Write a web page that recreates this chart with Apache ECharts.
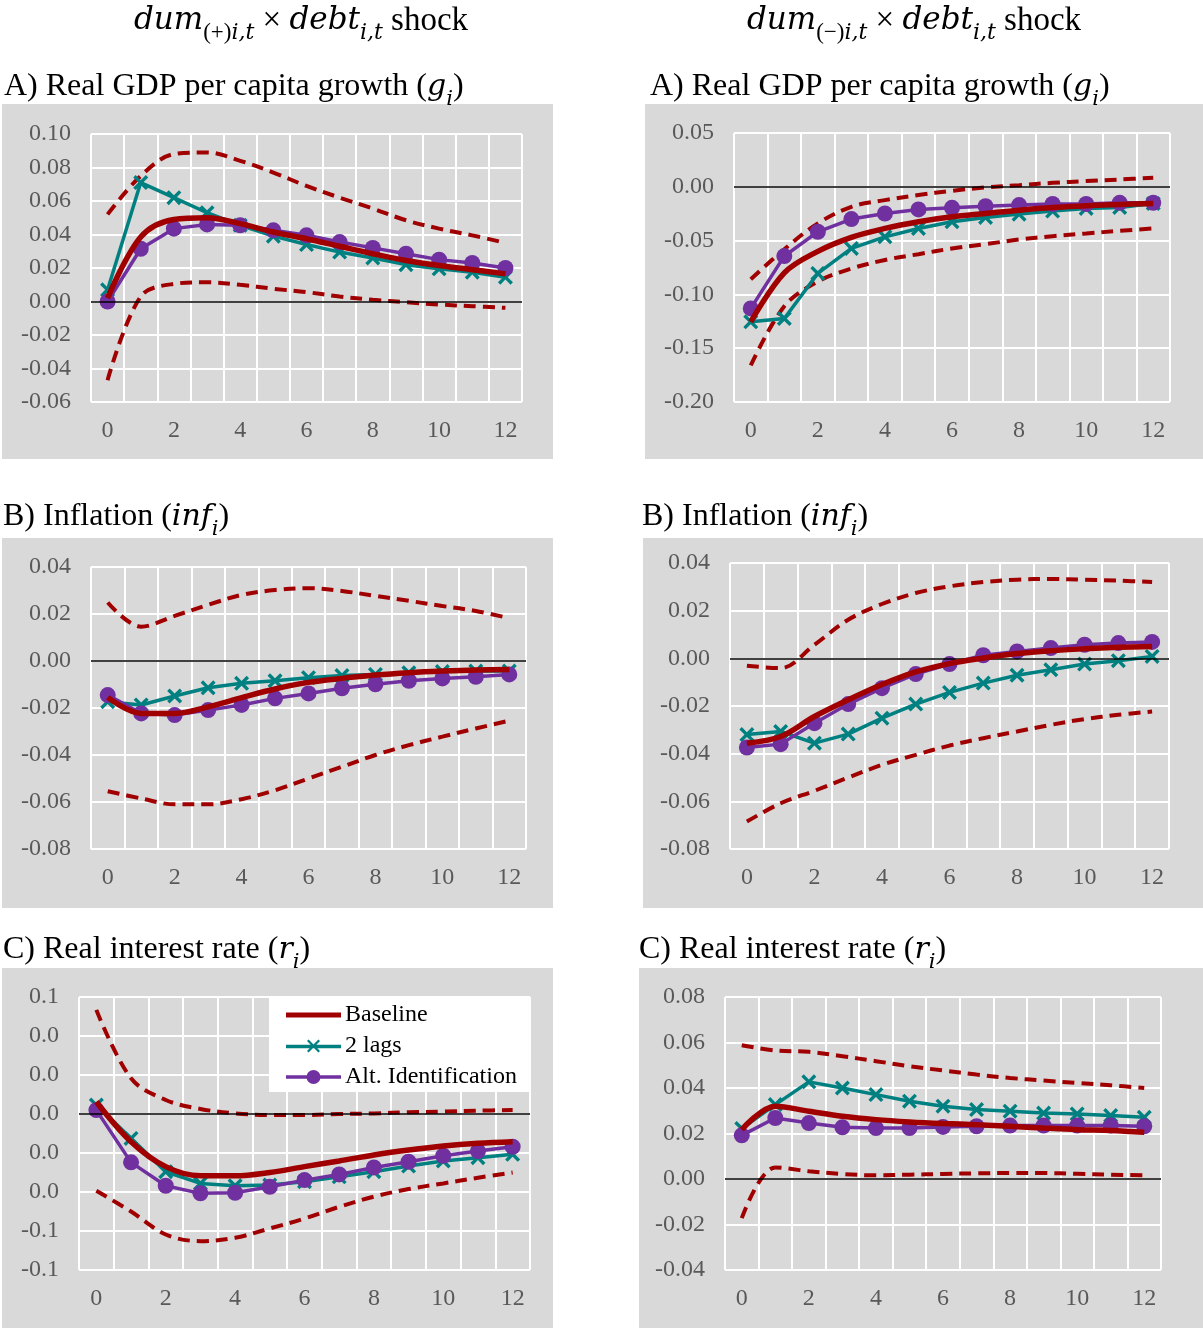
<!DOCTYPE html>
<html><head><meta charset="utf-8">
<script src="https://cdn.jsdelivr.net/npm/echarts@6/dist/echarts.min.js"></script>
<style>html,body{margin:0;padding:0;background:#fff}#c{width:1203px;height:1334px}</style>
</head><body><div id="c"></div>
<script>
// ---------- DATA ----------
const horizons = ['0','1','2','3','4','5','6','7','8','9','10','11','12'];
const legendNames = ['Baseline', '2 lags', 'Alt. Identification'];

// A) Real GDP per capita growth, dum(+) shock
const gPosBaseline = [0.002, 0.0385, 0.049, 0.050, 0.0465, 0.0415, 0.0375, 0.033, 0.0285, 0.0245, 0.0215, 0.019, 0.0165];
const gPosLags     = [0.007, 0.071, 0.062, 0.053, 0.0455, 0.039, 0.034, 0.0295, 0.026, 0.022, 0.0195, 0.0175, 0.0145];
const gPosAlt      = [0.000, 0.0315, 0.0435, 0.046, 0.0455, 0.0425, 0.0395, 0.0355, 0.032, 0.0285, 0.025, 0.023, 0.020];
const gPosUpper    = [0.052, 0.075, 0.088, 0.089, 0.084, 0.077, 0.069, 0.062, 0.0555, 0.0485, 0.0435, 0.0395, 0.035];
const gPosLower    = [-0.047, 0.003, 0.0105, 0.0115, 0.010, 0.0076, 0.0056, 0.003, 0.001, -0.0004, -0.0018, -0.0028, -0.0038];

// A) Real GDP per capita growth, dum(-) shock
const gNegBaseline = [-0.1255, -0.080, -0.060, -0.047, -0.0387, -0.0325, -0.0279, -0.0248, -0.0217, -0.0192, -0.0177, -0.0164, -0.0155];
const gNegLags     = [-0.1255, -0.1224, -0.0805, -0.0573, -0.0465, -0.0387, -0.0325, -0.0285, -0.0254, -0.0226, -0.0201, -0.0192, -0.0155];
const gNegAlt      = [-0.113, -0.0644, -0.0418, -0.030, -0.0248, -0.021, -0.0195, -0.018, -0.017, -0.016, -0.016, -0.0149, -0.0149];
const gNegUpper    = [-0.086, -0.058, -0.034, -0.0186, -0.0124, -0.0077, -0.0037, -0.0006, 0.0015, 0.0037, 0.0053, 0.0068, 0.0084];
const gNegLower    = [-0.166, -0.111, -0.088, -0.076, -0.068, -0.0626, -0.0573, -0.0533, -0.049, -0.0459, -0.0434, -0.0409, -0.0387];

// B) Inflation, dum(+) shock
const infPosBaseline = [-0.0155, -0.0223, -0.0223, -0.0195, -0.0156, -0.0119, -0.0091, -0.0074, -0.006, -0.005, -0.0043, -0.0038, -0.0036];
const infPosLags     = [-0.0173, -0.0187, -0.0149, -0.0114, -0.0095, -0.0084, -0.0071, -0.0062, -0.0057, -0.005, -0.0045, -0.0043, -0.0043];
const infPosAlt      = [-0.0145, -0.0223, -0.023, -0.0209, -0.0187, -0.0159, -0.0138, -0.0116, -0.0099, -0.0084, -0.0074, -0.0067, -0.0057];
const infPosUpper    = [0.0249, 0.0146, 0.0192, 0.0239, 0.0281, 0.0302, 0.031, 0.0298, 0.0277, 0.0256, 0.0234, 0.0213, 0.0182];
const infPosLower    = [-0.0554, -0.0585, -0.061, -0.061, -0.0588, -0.055, -0.050, -0.045, -0.040, -0.0358, -0.0322, -0.0287, -0.0254];

// B) Inflation, dum(-) shock
const infNegBaseline = [-0.0356, -0.0328, -0.0244, -0.0174, -0.011, -0.0057, -0.0022, 0.0001, 0.002, 0.0032, 0.004, 0.0046, 0.005];
const infNegLags     = [-0.032, -0.0307, -0.0356, -0.0318, -0.0251, -0.0192, -0.0143, -0.0104, -0.0071, -0.0048, -0.0024, -0.001, 0.0008];
const infNegAlt      = [-0.0374, -0.036, -0.0272, -0.0192, -0.0125, -0.0066, -0.0024, 0.0013, 0.0029, 0.0043, 0.0057, 0.0064, 0.0069];
const infNegUpper    = [-0.0031, -0.0041, 0.0057, 0.0162, 0.0228, 0.0274, 0.0302, 0.032, 0.033, 0.0333, 0.033, 0.0326, 0.032];
const infNegLower    = [-0.0685, -0.0608, -0.0556, -0.050, -0.0447, -0.0405, -0.0366, -0.0335, -0.0307, -0.0279, -0.0255, -0.0237, -0.0223];

// C) Real interest rate, dum(+) shock
const rPosBaseline = [0.0063, -0.0142, -0.027, -0.0317, -0.0317, -0.030, -0.027, -0.0241, -0.021, -0.0185, -0.0164, -0.015, -0.0142];
const rPosLags     = [0.0046, -0.0125, -0.0296, -0.0356, -0.0368, -0.0364, -0.0347, -0.0322, -0.0296, -0.0267, -0.0241, -0.0224, -0.0207];
const rPosAlt      = [0.002, -0.0248, -0.0368, -0.0407, -0.0404, -0.0373, -0.0339, -0.031, -0.0274, -0.0245, -0.0214, -0.019, -0.0168];
const rPosUpper    = [0.0534, 0.0183, 0.0072, 0.0026, 0.0003, -0.0005, -0.0005, 0.0, 0.0003, 0.0009, 0.0012, 0.0017, 0.002];
const rPosLower    = [-0.0394, -0.050, -0.0618, -0.0652, -0.0635, -0.0587, -0.0536, -0.0476, -0.0424, -0.0385, -0.0356, -0.0327, -0.030];

// C) Real interest rate, dum(-) shock
const rNegBaseline = [0.0217, 0.032, 0.0298, 0.0276, 0.0261, 0.0251, 0.0244, 0.0239, 0.0232, 0.0224, 0.0217, 0.0213, 0.0205];
const rNegLags     = [0.0222, 0.0327, 0.0427, 0.040, 0.0371, 0.0342, 0.032, 0.0305, 0.0298, 0.029, 0.0286, 0.0279, 0.0271];
const rNegAlt      = [0.0192, 0.0268, 0.0246, 0.0227, 0.0224, 0.0224, 0.0229, 0.0232, 0.0235, 0.0235, 0.0235, 0.0235, 0.0232];
const rNegUpper    = [0.0588, 0.0565, 0.0559, 0.054, 0.0518, 0.0496, 0.0477, 0.0459, 0.0444, 0.0433, 0.0422, 0.0412, 0.040];
const rNegLower    = [-0.0172, 0.0051, 0.0034, 0.0022, 0.0016, 0.0019, 0.0022, 0.0025, 0.0026, 0.0026, 0.0023, 0.0019, 0.0016];

// ---------- STYLE / LAYOUT ----------
const SERIF = '"Liberation Serif", "Times New Roman", serif';
const MATH = '"DejaVu Serif", "Liberation Serif", serif';
const RED = '#A00000', TEAL = '#008080', PURPLE = '#7030A0';
const XMARK = 'path://M0,1.6 L1.6,0 L5,3.4 L8.4,0 L10,1.6 L6.6,5 L10,8.4 L8.4,10 L5,6.6 L1.6,10 L0,8.4 L3.4,5 Z';
// legend icons drawn in a 55 x 14 box: line + marker
const ICON_BASE = 'path://M0,4.5 L55,4.5 L55,9.5 L0,9.5 Z';
const ICON_LAGS = 'path://M0,5.25 L55,5.25 L55,8.75 L0,8.75 Z M21,1.6 L22.6,0 L27.5,4.9 L32.4,0 L34,1.6 L29.1,6.5 L34,11.4 L32.4,13 L27.5,8.1 L22.6,13 L21,11.4 L25.9,6.5 Z';
const ICON_ALT = 'path://M0,5.25 L55,5.25 L55,8.75 L0,8.75 Z M20.5,7 A7,7 0 1 1 34.5,7 A7,7 0 1 1 20.5,7 Z';

const panels = [
  { grid: {left: 91, top: 134, width: 431, height: 268}, min: -0.06, max: 0.10, interval: 0.02, dec: 2,
    data: [gPosUpper, gPosLower, gPosLags, gPosAlt, gPosBaseline] },
  { grid: {left: 734, top: 133, width: 436, height: 269}, min: -0.20, max: 0.05, interval: 0.05, dec: 2,
    data: [gNegUpper, gNegLower, gNegLags, gNegAlt, gNegBaseline] },
  { grid: {left: 91, top: 567, width: 435, height: 282}, min: -0.08, max: 0.04, interval: 0.02, dec: 2,
    data: [infPosUpper, infPosLower, infPosLags, infPosAlt, infPosBaseline] },
  { grid: {left: 730, top: 563, width: 439, height: 286}, min: -0.08, max: 0.04, interval: 0.02, dec: 2,
    data: [infNegUpper, infNegLower, infNegLags, infNegAlt, infNegBaseline] },
  { grid: {left: 79, top: 997, width: 451, height: 273}, min: -0.08, max: 0.06, interval: 0.02, dec: 1,
    data: [rPosUpper, rPosLower, rPosLags, rPosAlt, rPosBaseline] },
  { grid: {left: 725, top: 997, width: 436, height: 273}, min: -0.04, max: 0.08, interval: 0.02, dec: 2,
    data: [rNegUpper, rNegLower, rNegLags, rNegAlt, rNegBaseline] }
];

const bgRects = [
  [2, 104, 551, 355], [645, 104, 558, 355],
  [2, 538, 551, 370], [643, 538, 560, 370],
  [2, 968, 551, 360], [639, 968, 564, 360]
];

function fmt(dec) {
  return function (v) {
    let s = (Math.round(v * Math.pow(10, dec)) / Math.pow(10, dec)).toFixed(dec);
    if (/^-0\.0+$/.test(s)) s = s.slice(1);
    return s;
  };
}

const grids = [], xAxes = [], yAxes = [], series = [];
panels.forEach((p, i) => {
  grids.push(Object.assign({containLabel: false}, p.grid));
  xAxes.push({
    type: 'category', gridIndex: i, data: horizons, boundaryGap: true,
    axisLine: {show: false}, axisTick: {show: false},
    axisLabel: {interval: 1, color: '#595959', fontFamily: SERIF, fontSize: 24, margin: 17},
    splitLine: {show: true, interval: 0, lineStyle: {color: '#FFFFFF', width: 2}}
  });
  yAxes.push({
    type: 'value', gridIndex: i, min: p.min, max: p.max, interval: p.interval,
    axisLine: {show: false}, axisTick: {show: false},
    axisLabel: {color: '#595959', fontFamily: SERIF, fontSize: 24, margin: 20, formatter: fmt(p.dec)},
    splitLine: {show: true, lineStyle: {color: '#FFFFFF', width: 2}}
  });
  const [up, lo, lags, alt, base] = p.data;
  const dashed = {color: RED, width: 4, type: [12, 7], cap: 'butt'};
  series.push({
    name: 'Upper band', type: 'line', xAxisIndex: i, yAxisIndex: i, data: up,
    smooth: 0.35, symbol: 'none', lineStyle: dashed, itemStyle: {color: RED}, z: 2,
    markLine: {silent: true, symbol: 'none', label: {show: false}, animation: false,
      lineStyle: {color: '#000000', width: 1.6, type: 'solid'}, data: [{yAxis: 0}]}
  });
  series.push({
    name: 'Lower band', type: 'line', xAxisIndex: i, yAxisIndex: i, data: lo,
    smooth: 0.35, symbol: 'none', lineStyle: dashed, itemStyle: {color: RED}, z: 2
  });
  series.push({
    name: legendNames[1], type: 'line', xAxisIndex: i, yAxisIndex: i, data: lags,
    symbol: XMARK, symbolSize: 15, showAllSymbol: true,
    lineStyle: {color: TEAL, width: 3.5}, itemStyle: {color: TEAL}, z: 3
  });
  series.push({
    name: legendNames[2], type: 'line', xAxisIndex: i, yAxisIndex: i, data: alt,
    symbol: 'circle', symbolSize: 16, showAllSymbol: true,
    lineStyle: {color: PURPLE, width: 3.5}, itemStyle: {color: PURPLE}, z: 4
  });
  series.push({
    name: legendNames[0], type: 'line', xAxisIndex: i, yAxisIndex: i, data: base,
    smooth: 0.35, symbol: 'none', lineStyle: {color: RED, width: 5.5}, itemStyle: {color: RED}, z: 5
  });
});

function richSet(nSize, mSize, sSize) {
  return {
    n: {fontFamily: SERIF, fontSize: nSize, fill: '#000', lineHeight: 46, verticalAlign: 'middle'},
    m: {fontFamily: MATH, fontStyle: 'italic', fontSize: mSize, fill: '#000', lineHeight: 46, verticalAlign: 'middle'},
    s: {fontFamily: MATH, fontStyle: 'italic', fontSize: sSize, fill: '#000', lineHeight: 24, verticalAlign: 'bottom'},
    su: {fontFamily: SERIF, fontSize: sSize + 1, fill: '#000', lineHeight: 24, verticalAlign: 'bottom'}
  };
}
function textEl(x, y, text, align, big) {
  const rich = big ? richSet(33, 31, 22) : richSet(32, 30, 21);
  return {type: 'text', x: x, y: y, silent: true, z: 10,
    style: {text: text, rich: rich, align: align || 'left', verticalAlign: 'middle', fill: '#000', fontFamily: SERIF, fontSize: 32}};
}

const graphics = bgRects.map(r => ({type: 'rect', silent: true, z: -10,
  shape: {x: r[0], y: r[1], width: r[2], height: r[3]}, style: {fill: '#D9D9D9'}}));
graphics.push(textEl(301, 21, '{m|dum}{su|(+)}{s|i,t}{n| × }{m|debt}{s|i,t}{n| shock}', 'center', true));
graphics.push(textEl(914, 21, '{m|dum}{su|(−)}{s|i,t}{n| × }{m|debt}{s|i,t}{n| shock}', 'center', true));
graphics.push(textEl(4, 87, '{n|A) Real GDP per capita growth (}{m|g}{s|i}{n|)}'));
graphics.push(textEl(650, 87, '{n|A) Real GDP per capita growth (}{m|g}{s|i}{n|)}'));
graphics.push(textEl(3, 517, '{n|B) Inflation (}{m|inf}{s|i}{n|)}'));
graphics.push(textEl(642, 517, '{n|B) Inflation (}{m|inf}{s|i}{n|)}'));
graphics.push(textEl(3, 950, '{n|C) Real interest rate (}{m|r}{s|i}{n|)}'));
graphics.push(textEl(639, 950, '{n|C) Real interest rate (}{m|r}{s|i}{n|)}'));

const chart = echarts.init(document.getElementById('c'), null, {renderer: 'canvas'});
chart.setOption({
  animation: false,
  backgroundColor: '#FFFFFF',
  grid: grids, xAxis: xAxes, yAxis: yAxes, series: series,
  legend: {
    data: [
      {name: legendNames[0], icon: ICON_BASE},
      {name: legendNames[1], icon: ICON_LAGS},
      {name: legendNames[2], icon: ICON_ALT}
    ],
    orient: 'vertical', left: 269, top: 997,
    backgroundColor: '#FFFFFF', padding: [6, 12, 3, 17], itemWidth: 55, itemHeight: 14, itemGap: 7,
    selectedMode: false, z: 20,
    textStyle: {fontFamily: SERIF, fontSize: 24, color: '#000', lineHeight: 20, padding: [0, 0, 0, -1]}
  },
  graphic: graphics
});
</script>
</body></html>
